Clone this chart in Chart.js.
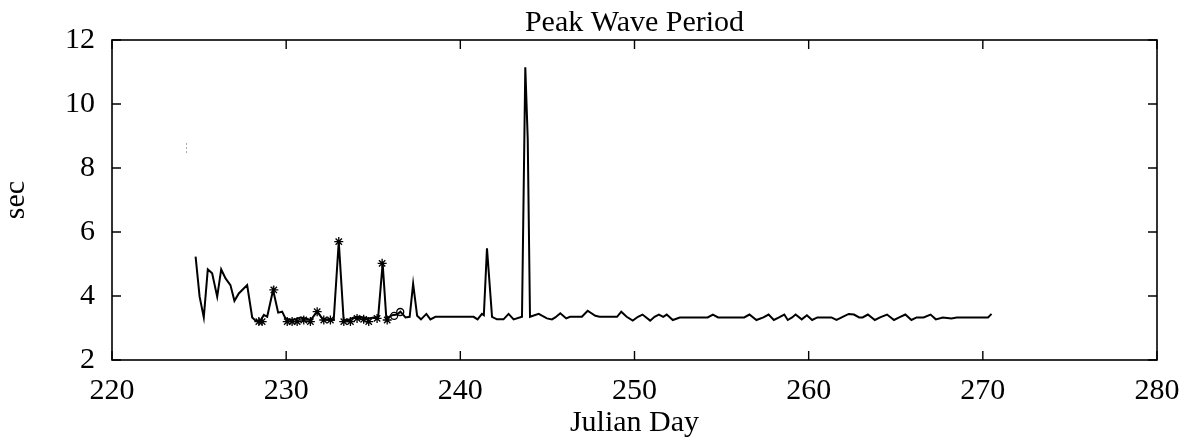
<!DOCTYPE html>
<html><head><meta charset="utf-8">
<script src="https://cdn.jsdelivr.net/npm/chart.js@4.4.1/dist/chart.umd.min.js"></script>
<style>html,body{margin:0;padding:0;background:#fff;}#wrap{width:1187px;height:446px;}</style>
</head><body><div id="wrap"><canvas id="c" width="1187" height="446"></canvas></div>
<script>
const chartTitle = 'Peak Wave Period';
const xLabel = 'Julian Day';
const yLabel = 'sec';
const xTicks = [220, 230, 240, 250, 260, 270, 280];
const yTicks = [2, 4, 6, 8, 10, 12];

const days = [224.8,225.03,225.27,225.5,225.75,226.04,226.27,226.52,226.8,227.03,227.28,227.76,228.05,228.24,228.49,228.72,228.91,229.25,229.54,229.77,229.96,230.25,230.53,230.82,231.1,231.4,231.78,232.07,232.35,232.73,233.02,233.3,233.59,233.88,234.17,234.45,234.74,235.03,235.28,235.54,235.75,236.08,236.37,236.56,236.85,237.09,237.29,237.52,237.74,238.05,238.28,238.57,240.76,240.99,241.24,241.35,241.53,241.82,242.1,242.48,242.77,243.06,243.54,243.73,243.87,244.0,244.5,244.97,245.26,245.45,245.74,246.08,246.3,246.98,247.31,247.75,248.0,249.0,249.24,249.55,249.9,250.2,250.46,250.9,251.15,251.4,251.65,251.85,252.2,252.6,254.2,254.5,254.8,256.3,256.6,257.0,257.4,257.7,258.0,258.3,258.6,258.8,259.05,259.25,259.6,259.9,260.2,260.5,261.3,261.6,262.3,262.6,262.9,263.1,263.4,263.8,264.1,264.5,264.9,265.2,265.55,265.9,266.2,266.6,267.0,267.3,267.7,268.2,268.5,270.3,270.5];
const period = [5.23,3.98,3.33,4.83,4.71,3.98,4.83,4.55,4.34,3.85,4.08,4.34,3.33,3.23,3.2,3.41,3.35,4.19,3.48,3.51,3.3,3.25,3.27,3.33,3.3,3.25,3.51,3.3,3.27,3.25,5.7,3.25,3.25,3.33,3.35,3.33,3.3,3.33,3.33,5.02,3.3,3.4,3.42,3.51,3.33,3.35,4.38,3.38,3.27,3.44,3.27,3.35,3.35,3.27,3.44,3.4,5.49,3.35,3.27,3.27,3.44,3.27,3.35,11.15,8.9,3.35,3.44,3.3,3.27,3.33,3.46,3.3,3.35,3.35,3.54,3.38,3.35,3.35,3.51,3.35,3.23,3.35,3.42,3.23,3.35,3.42,3.35,3.42,3.25,3.33,3.33,3.42,3.33,3.33,3.42,3.25,3.33,3.42,3.25,3.33,3.42,3.25,3.33,3.42,3.27,3.4,3.25,3.33,3.33,3.25,3.44,3.42,3.33,3.33,3.42,3.25,3.33,3.42,3.25,3.33,3.42,3.25,3.33,3.33,3.42,3.27,3.33,3.3,3.33,3.33,3.44];

const starDays = [228.43,228.62,229.29,230.06,230.34,230.63,231.01,231.39,231.78,232.16,232.54,233.02,233.31,233.69,234.07,234.45,234.74,235.22,235.51,235.8];
const starPeriod = [3.2,3.2,4.19,3.2,3.2,3.2,3.25,3.2,3.51,3.25,3.25,5.7,3.2,3.2,3.3,3.27,3.2,3.3,5.02,3.25];

const circleDays = [236.2,236.55];
const circlePeriod = [3.38,3.5];

const specDays = [224.28,224.28];
const specPeriod = [8.78,8.41];

const pts = (xs, ys) => xs.map((d, i) => ({x: d, y: ys[i]}));
const serif = "'Liberation Serif','Times New Roman',serif";

const framePlugin = {
  id: 'frame',
  afterDraw(chart) {
    const {ctx, chartArea: a, scales: {x, y}} = chart;
    ctx.save();
    ctx.strokeStyle = '#000';
    ctx.lineWidth = 1.6;
    ctx.strokeRect(a.left, a.top, a.right - a.left, a.bottom - a.top);
    ctx.lineWidth = 1.4;
    ctx.beginPath();
    const tl = 9;
    xTicks.forEach(v => {
      const px = x.getPixelForValue(v);
      ctx.moveTo(px, a.bottom); ctx.lineTo(px, a.bottom - tl);
      ctx.moveTo(px, a.top); ctx.lineTo(px, a.top + tl);
    });
    yTicks.forEach(v => {
      const py = y.getPixelForValue(v);
      ctx.moveTo(a.left, py); ctx.lineTo(a.left + tl, py);
      ctx.moveTo(a.right, py); ctx.lineTo(a.right - tl, py);
    });
    ctx.stroke();
    ctx.restore();
  }
};

new Chart(document.getElementById('c'), {
  type: 'scatter',
  data: {
    datasets: [
      {data: pts(days, period), showLine: true, borderColor: '#000', borderWidth: 2, pointRadius: 0, tension: 0, fill: false},
      {data: pts(starDays, starPeriod), showLine: false, pointStyle: 'star', pointRadius: 4.5, borderColor: '#000', backgroundColor: '#000', borderWidth: 1.3},
      {data: pts(circleDays, circlePeriod), showLine: false, pointStyle: 'circle', pointRadius: 3.5, borderColor: '#000', backgroundColor: 'rgba(255,255,255,0)', borderWidth: 1.3},
      {data: pts(specDays, specPeriod), showLine: true, borderColor: '#aaa', borderWidth: 1, borderDash: [2, 2], pointRadius: 0}
    ]
  },
  options: {
    responsive: false,
    devicePixelRatio: 1,
    animation: false,
    layout: {padding: {left: 0, right: 30, top: 0, bottom: 0}},
    plugins: {
      legend: {display: false},
      tooltip: {enabled: false},
      title: {display: true, text: chartTitle, color: '#000', fullSize: false,
        font: {family: serif, size: 30, weight: 'normal', lineHeight: 1.1},
        padding: {top: 6.5, bottom: 0.5}}
    },
    scales: {
      x: {
        type: 'linear', min: 220, max: 280,
        afterBuildTicks: s => { s.ticks = xTicks.map(v => ({value: v})); },
        afterFit: s => { s.height = 86; },
        grid: {display: false}, border: {display: false},
        ticks: {color: '#000', padding: 5, maxRotation: 0, font: {family: serif, size: 30}},
        title: {display: true, text: xLabel, color: '#000', font: {family: serif, size: 30, lineHeight: 1.2}, padding: {top: 0, bottom: 5}}
      },
      y: {
        type: 'linear', min: 2, max: 12,
        afterBuildTicks: s => { s.ticks = yTicks.map(v => ({value: v})); },
        afterFit: s => { s.width = 112; },
        grid: {display: false}, border: {display: false},
        ticks: {color: '#000', padding: 9, font: {family: serif, size: 30}},
        title: {display: true, text: yLabel, color: '#000', font: {family: serif, size: 30, lineHeight: 1.1}, padding: {top: 0, bottom: 0}}
      }
    }
  },
  plugins: [framePlugin]
});
</script>
</body></html>
